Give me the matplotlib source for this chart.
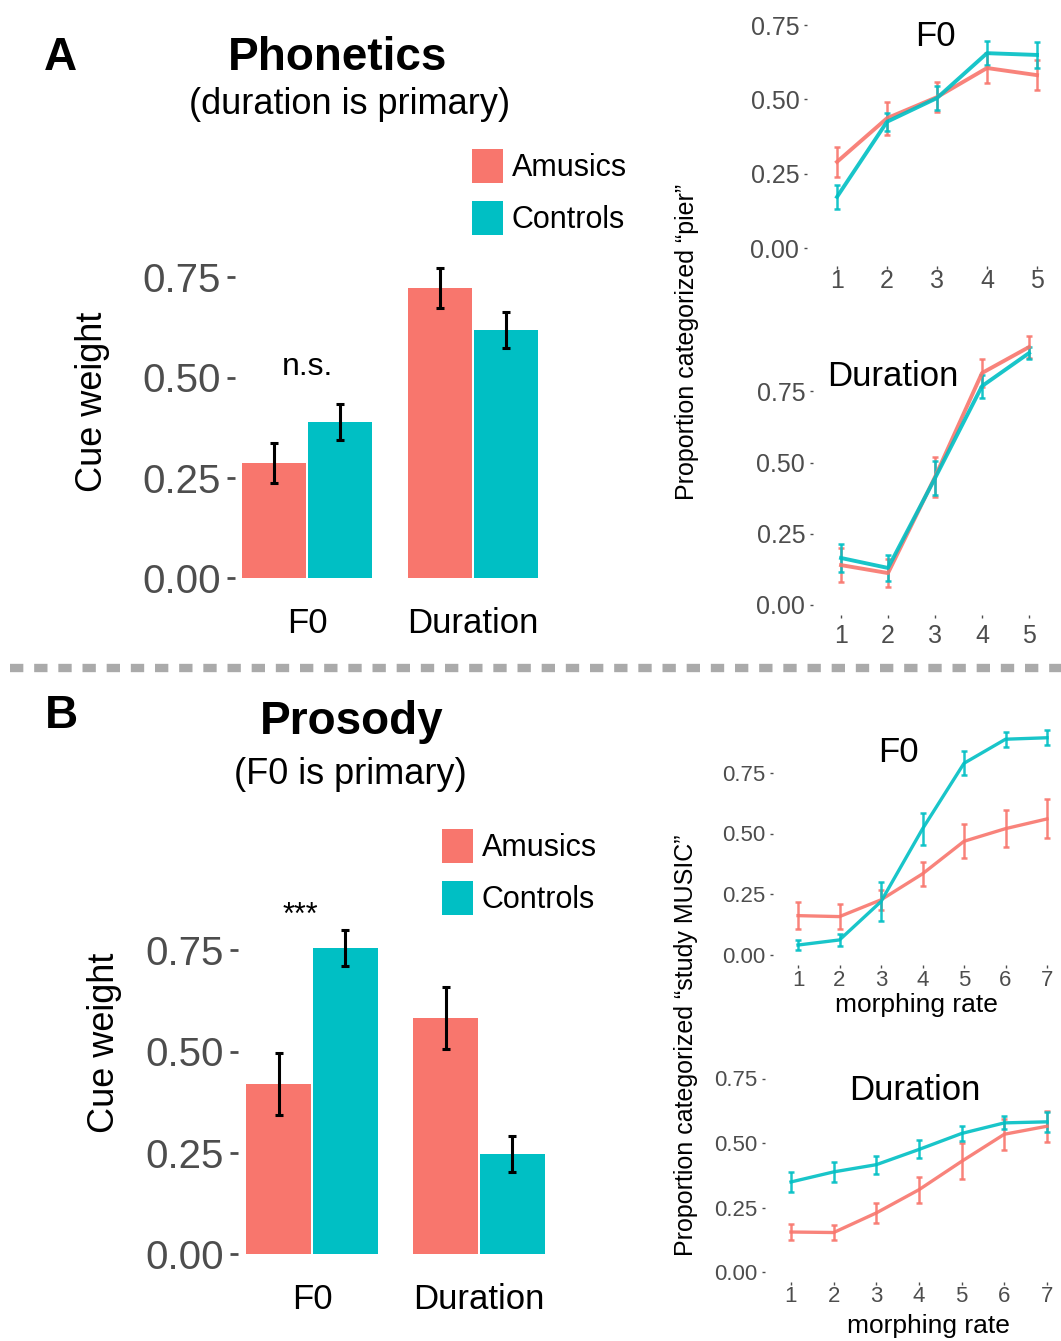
import matplotlib
matplotlib.use("Agg")
import matplotlib.pyplot as plt
from matplotlib.patches import Patch
import numpy as np

plt.rcParams['font.family'] = ['Liberation Sans', 'DejaVu Sans']

W, H = 1061, 1341
RED = "#F8766D"
CYAN = "#00BFC4"
TICK_GRAY = "#4D4D4D"

# ---- data ----
groups = ["Amusics", "Controls"]
cues = ["F0", "Duration"]

# Panel A: phonetics cue weights (rows = group, cols = cue)
phon_weight = [[0.287, 0.723], [0.389, 0.618]]
phon_err = [[0.050, 0.050], [0.046, 0.045]]

# Panel B: prosody cue weights
pros_weight = [[0.420, 0.583], [0.756, 0.247]]
pros_err = [[0.077, 0.077], [0.044, 0.045]]

# Phonetics curves (5 steps)
phon_steps = [1, 2, 3, 4, 5]
phon_f0_amus = [0.290, 0.437, 0.508, 0.606, 0.582]
phon_f0_amus_err = [0.050, 0.055, 0.050, 0.050, 0.050]
phon_f0_ctrl = [0.172, 0.425, 0.505, 0.656, 0.650]
phon_f0_ctrl_err = [0.040, 0.030, 0.040, 0.040, 0.045]
phon_dur_amus = [0.140, 0.112, 0.449, 0.814, 0.905]
phon_dur_amus_err = [0.060, 0.050, 0.070, 0.050, 0.040]
phon_dur_ctrl = [0.165, 0.130, 0.445, 0.768, 0.884]
phon_dur_ctrl_err = [0.050, 0.045, 0.060, 0.040, 0.020]

# Prosody curves (7 morphing rates)
pros_steps = [1, 2, 3, 4, 5, 6, 7]
pros_f0_amus = [0.162, 0.158, 0.227, 0.334, 0.468, 0.520, 0.560]
pros_f0_amus_err = [0.055, 0.050, 0.040, 0.048, 0.070, 0.075, 0.080]
pros_f0_ctrl = [0.041, 0.062, 0.220, 0.519, 0.789, 0.888, 0.894]
pros_f0_ctrl_err = [0.020, 0.025, 0.080, 0.065, 0.050, 0.030, 0.030]
pros_dur_amus = [0.155, 0.153, 0.229, 0.319, 0.429, 0.534, 0.565]
pros_dur_amus_err = [0.030, 0.030, 0.040, 0.050, 0.070, 0.060, 0.060]
pros_dur_ctrl = [0.349, 0.388, 0.416, 0.475, 0.537, 0.578, 0.582]
pros_dur_ctrl_err = [0.040, 0.040, 0.035, 0.035, 0.030, 0.025, 0.040]

yticks = [0.0, 0.25, 0.5, 0.75]
ytick_labels = ["0.00", "0.25", "0.50", "0.75"]

fig = plt.figure(figsize=(W / 100, H / 100), dpi=100)


def px_axes(left, top, right, bottom):
    return fig.add_axes([left / W, 1 - bottom / H, (right - left) / W, (bottom - top) / H])


def ftext(x, y, s, **kw):
    fig.text(x / W, 1 - y / H, s, **kw)


def bar_panel(ax, weights, errs, xlim, ylim):
    x = np.arange(len(cues))
    for gi, (color, off) in enumerate(zip([RED, CYAN], [-0.2, 0.2])):
        ax.bar(x + off, weights[gi], width=0.385, color=color, edgecolor="none")
        ax.errorbar(x + off, weights[gi], yerr=errs[gi], fmt="none", ecolor="black",
                    elinewidth=2.2, capsize=3, capthick=2.2)
    ax.set_xlim(*xlim)
    ax.set_ylim(*ylim)
    ax.set_xticks(x)
    ax.set_xticklabels(cues, fontsize=25, color="black")
    ax.set_yticks(yticks)
    ax.set_yticklabels(ytick_labels, fontsize=29, color=TICK_GRAY)
    ax.tick_params(axis="x", length=0, pad=21)
    ax.tick_params(axis="y", length=6, width=2, color=TICK_GRAY, pad=4)
    for s in ax.spines.values():
        s.set_visible(False)


def curve_panel(ax, steps, amus, amus_err, ctrl, ctrl_err, ylim, fs, lw, xpad=3):
    ax.errorbar(steps, amus, yerr=amus_err, color=RED, lw=lw, elinewidth=1.8,
                capsize=2.5, capthick=1.8, alpha=0.9)
    ax.errorbar(steps, ctrl, yerr=ctrl_err, color=CYAN, lw=lw, elinewidth=1.8,
                capsize=2.5, capthick=1.8, alpha=0.9)
    # discrete-style padding of 0.6 units on each side
    ax.set_xlim(steps[0] - 0.6, steps[-1] + 0.6)
    ax.set_ylim(*ylim)
    ax.set_xticks(steps)
    ax.set_xticklabels([str(s) for s in steps], fontsize=fs, color=TICK_GRAY)
    ax.set_yticks(yticks)
    ax.set_yticklabels(ytick_labels, fontsize=fs, color=TICK_GRAY)
    ax.tick_params(length=2.5, width=1, color=TICK_GRAY, pad=3)
    ax.tick_params(axis="x", pad=xpad)
    for s in ax.spines.values():
        s.set_visible(False)


# ---- Panel A bars ----
axA = px_axes(235, 578 - 0.8 * 401, 550, 578)
bar_panel(axA, phon_weight, phon_err, (-0.434, 1.464), (0, 0.8))
axA.text(0, 0.525, "n.s.", ha="center", va="center", fontsize=23)
ftext(93, 402, "Cue weight", rotation=90, ha="center", va="center", fontsize=26)
ftext(60, 58, "A", ha="center", va="center", fontsize=33, fontweight="bold")
ftext(338, 58, "Phonetics", ha="center", va="center", fontsize=33, fontweight="bold")
ftext(350, 104, "(duration is primary)", ha="center", va="center", fontsize=26)
handles = [Patch(facecolor=RED, label=groups[0]), Patch(facecolor=CYAN, label=groups[1])]
fig.legend(handles=handles, loc="upper left", bbox_to_anchor=(460 / W, 1 - 137 / H),
           frameon=False, fontsize=22, handlelength=1.0, handleheight=1.3,
           labelspacing=0.6, handletextpad=0.3, borderaxespad=0)

# ---- Panel A curves ----
axA1 = px_axes(837 - 0.6 * 50, 248 - 0.8 * 297, 1037 + 0.6 * 50, 248 + 0.06 * 297)
curve_panel(axA1, phon_steps, phon_f0_amus, phon_f0_amus_err, phon_f0_ctrl, phon_f0_ctrl_err,
            (-0.06, 0.8), 18, 2.8, xpad=0)
ftext(935, 37, "F0", ha="center", va="center", fontsize=25)

axA2 = px_axes(841 - 0.6 * 47, 605 - 0.96 * 285, 1029 + 0.6 * 47, 605 + 0.035 * 285)
curve_panel(axA2, phon_steps, phon_dur_amus, phon_dur_amus_err, phon_dur_ctrl, phon_dur_ctrl_err,
            (-0.035, 0.96), 18, 2.8, xpad=4)
ftext(893, 376, "Duration", ha="center", va="center", fontsize=25)
ftext(687, 342, "Proportion categorized \u201cpier\u201d", rotation=90, ha="center", va="center",
      fontsize=18)

# ---- separator ----
fig.add_artist(plt.Line2D([10 / W, 1], [1 - 668 / H, 1 - 668 / H], color="#AAAAAA", lw=6,
                          linestyle=(0, (1.6, 1.3)), transform=fig.transFigure))

# ---- Panel B bars ----
axB = px_axes(238, 1254 - 0.82 * 405, 555, 1254)
bar_panel(axB, pros_weight, pros_err, (-0.443, 1.455), (0, 0.82))
axB.text(-0.07, 0.835, "***", ha="center", va="center", fontsize=22, clip_on=False)
ftext(105, 1043, "Cue weight", rotation=90, ha="center", va="center", fontsize=26)
ftext(61, 716, "B", ha="center", va="center", fontsize=33, fontweight="bold")
ftext(352, 722, "Prosody", ha="center", va="center", fontsize=33, fontweight="bold")
ftext(350, 774, "(F0 is primary)", ha="center", va="center", fontsize=26)
handles = [Patch(facecolor=RED, label=groups[0]), Patch(facecolor=CYAN, label=groups[1])]
fig.legend(handles=handles, loc="upper left", bbox_to_anchor=(430 / W, 1 - 817 / H),
           frameon=False, fontsize=22, handlelength=1.0, handleheight=1.3,
           labelspacing=0.6, handletextpad=0.3, borderaxespad=0)

# ---- Panel B curves ----
axB1 = px_axes(798 - 0.6 * 41.5, 955 - 0.94 * 243, 1047 + 0.6 * 41.5, 955 + 0.04 * 243)
curve_panel(axB1, pros_steps, pros_f0_amus, pros_f0_amus_err, pros_f0_ctrl, pros_f0_ctrl_err,
            (-0.04, 0.94), 16, 2.4, xpad=1)
ftext(898, 753, "F0", ha="center", va="center", fontsize=25)
ftext(916, 1005, "morphing rate", ha="center", va="center", fontsize=19)

axB2 = px_axes(791 - 0.6 * 42.7, 1272 - 0.78 * 258, 1047 + 0.6 * 42.7, 1272 + 0.04 * 258)
curve_panel(axB2, pros_steps, pros_dur_amus, pros_dur_amus_err, pros_dur_ctrl, pros_dur_ctrl_err,
            (-0.04, 0.78), 16, 2.4, xpad=0)
ftext(915, 1090, "Duration", ha="center", va="center", fontsize=25)
ftext(928, 1326, "morphing rate", ha="center", va="center", fontsize=19)
ftext(686, 1045, "Proportion categorized \u201cstudy MUSIC\u201d", rotation=90, ha="center",
      va="center", fontsize=18)

fig.savefig("out.png", dpi=100)
